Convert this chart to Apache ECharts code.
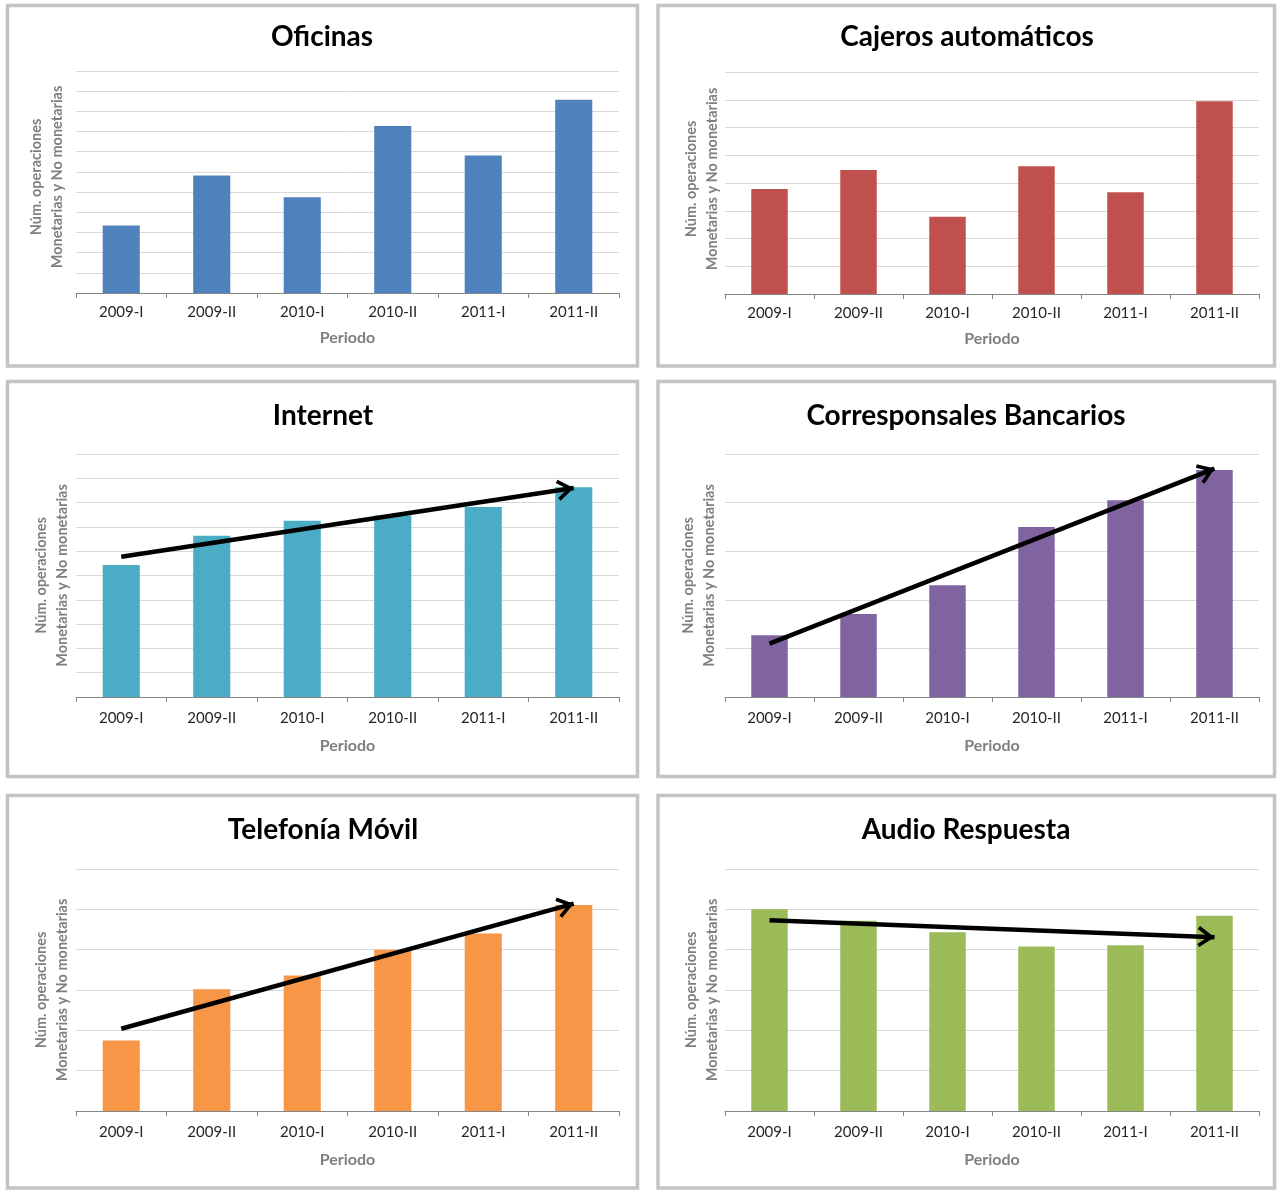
<!DOCTYPE html>
<html><head><meta charset="utf-8">
<script src="https://cdn.jsdelivr.net/npm/echarts@6/dist/echarts.min.js"></script>
<style>html,body{margin:0;padding:0;background:#fff}#c{width:1279px;height:1190px}</style>
</head><body><div id="c"></div>
<script>
const categories = ['2009-I','2009-II','2010-I','2010-II','2011-I','2011-II'];
const titles = ['Oficinas','Cajeros automáticos','Internet','Corresponsales Bancarios','Telefonía Móvil','Audio Respuesta'];
const oficinas = [3.35, 5.82, 4.75, 8.28, 6.81, 9.58];
const cajeros = [3.78, 4.47, 2.78, 4.60, 3.67, 6.95];
const internet = [5.43, 6.64, 7.25, 7.47, 7.82, 8.63];
const corresponsales = [1.27, 1.71, 2.30, 3.50, 4.05, 4.67];
const telefonia = [1.75, 3.02, 3.36, 4.00, 4.40, 5.11];
const audio = [5.00, 4.72, 4.43, 4.08, 4.11, 4.84];
const gridSteps = [11, 8, 10, 5, 6, 6];
// trend arrows: [start value at first category, end (tip) value at last category]
const internetTrend = [5.77, 8.60];
const corresponsalesTrend = [1.10, 4.70];
const telefoniaTrend = [2.04, 5.14];
const audioTrend = [4.73, 4.31];
const xAxisName = 'Periodo';
const yAxisName = 'Núm. operaciones\nMonetarias y No monetarias';

const seriesData = [oficinas, cajeros, internet, corresponsales, telefonia, audio];
const trends = [null, null, internetTrend, corresponsalesTrend, telefoniaTrend, audioTrend];
const colors = ['#4F81BD','#C0504D','#4BACC6','#8064A2','#F79646','#9BBB59'];

const layout = [
  {left:76, top:71, width:543, height:222, tx:322, ty:23, lab:20, nameGap:37, yGap:8, np:[0,0,0,10]},
  {left:725, top:72, width:534, height:222, tx:967, ty:23, lab:20, nameGap:37, yGap:2, np:[0,0,0,8]},
  {left:76, top:454, width:543, height:243, tx:323, ty:402, lab:22, nameGap:41, yGap:3, np:0},
  {left:725, top:454, width:534, height:243, tx:966, ty:402, lab:22, nameGap:41, yGap:5, np:0},
  {left:76, top:869, width:543, height:242, tx:323, ty:816, lab:22, nameGap:41, yGap:3, np:0},
  {left:725, top:869, width:534, height:242, tx:966, ty:816, lab:22, nameGap:41, yGap:2, np:0}
];
const boxes = [
  [7.5,5.5,630,360.5],[658,5.5,616.5,360.5],
  [7.5,381.5,630,395],[658,381.5,616.5,395],
  [7.5,795.5,630,392.5],[658,795.5,616.5,392.5]
];
const FONT = 'Lato, "Open Sans", sans-serif';
// open arrow head, tip at the symbol centre (degenerate point balances the bounding box)
const chevron = 'path://M10,-16 L10,-16 Z M10,0 L20,14 L17.2,16 L10,6 L2.8,16 L0,14 Z';

const option = {
  animation:false,
  backgroundColor:'#fff',
  title: layout.map((l,i)=>({text:titles[i], left:l.tx, top:l.ty, textAlign:'center', padding:0,
    textStyle:{fontFamily:FONT, fontWeight:'bold', fontSize:28, color:'#000'}})),
  graphic: boxes.map(b=>({type:'rect', shape:{x:b[0],y:b[1],width:b[2],height:b[3]},
    style:{fill:null, stroke:'#c3c3c3', lineWidth:3.5}, z:-1})),
  grid: layout.map(l=>({left:l.left, top:l.top, width:l.width, height:l.height, containLabel:false})),
  xAxis: layout.map((l,i)=>({type:'category', gridIndex:i, data:categories,
    axisLine:{lineStyle:{color:'#868686', width:1}},
    axisTick:{show:true, length:5, lineStyle:{color:'#868686'}},
    axisLabel:{color:'#262626', fontFamily:FONT, fontSize:15, margin:l.lab-8},
    name:xAxisName, nameLocation:'middle', nameGap:l.nameGap,
    nameTextStyle:{color:'#7f7f7f', fontFamily:FONT, fontWeight:'bold', fontSize:16}})),
  yAxis: layout.map((l,i)=>({type:'value', gridIndex:i, min:0, max:gridSteps[i], interval:1,
    axisLine:{show:false}, axisTick:{show:false}, axisLabel:{show:false},
    splitLine:{lineStyle:{color:'#d9d9d9', width:1}},
    name:yAxisName, nameLocation:'middle', nameGap:l.yGap, nameRotate:90,
    nameTextStyle:{color:'#7f7f7f', fontFamily:FONT, fontWeight:'bold', fontSize:14.5, lineHeight:21, padding:l.np}})),
  series: seriesData.map((d,i)=>{
    const s = {type:'bar', xAxisIndex:i, yAxisIndex:i, data:d, barCategoryGap:'59%',
      itemStyle:{color:colors[i]}, silent:true};
    if (trends[i]) {
      s.markLine = {silent:true, animation:false, symbol:['none', chevron], symbolSize:[21,34],
        label:{show:false}, lineStyle:{color:'#000', width:4.5, type:'solid'},
        data:[[{coord:[categories[0], trends[i][0]]},{coord:[categories[5], trends[i][1]]}]]};
    }
    return s;
  })
};
const chart = echarts.init(document.getElementById('c'), null, {renderer:'canvas'});
chart.setOption(option);
</script></body></html>
